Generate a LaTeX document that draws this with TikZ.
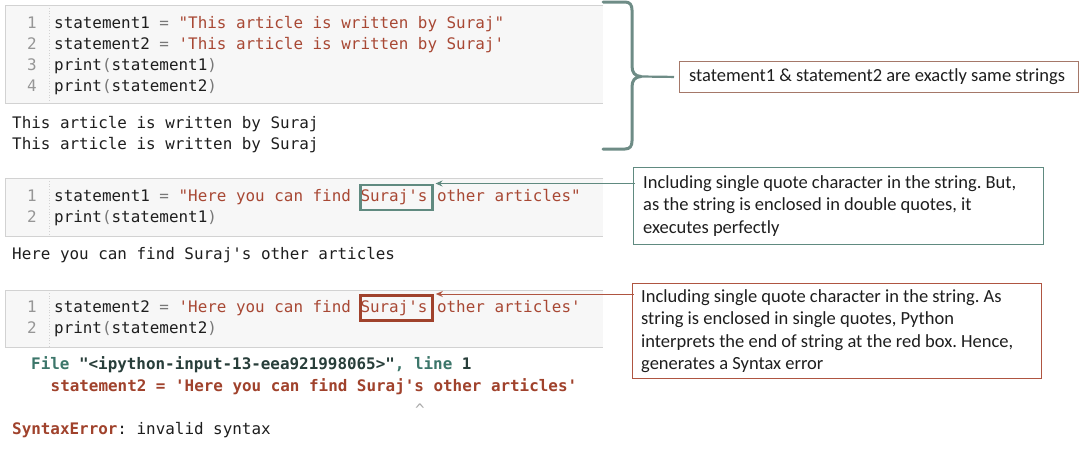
\documentclass[tikz,border=0pt]{standalone}
\usepackage{fontspec}
\setmainfont{Carlito}
\setmonofont{DejaVu Sans Mono}
\usetikzlibrary{arrows.meta}
\definecolor{strc}{RGB}{168,72,52}
\definecolor{opc}{RGB}{120,120,120}
\definecolor{lnc}{RGB}{150,150,150}
\definecolor{cellfill}{RGB}{247,247,247}
\definecolor{cellline}{RGB}{210,210,210}
\definecolor{tealc}{RGB}{96,138,128}
\definecolor{bracec}{RGB}{110,140,134}
\definecolor{redc}{RGB}{160,66,44}
\definecolor{callred}{RGB}{175,85,65}
\definecolor{callbrown}{RGB}{165,120,105}
\definecolor{filec}{RGB}{60,118,106}
\definecolor{fnc}{RGB}{40,62,58}
\definecolor{txtc}{RGB}{30,30,30}
\definecolor{caretc}{RGB}{170,170,170}
\newcommand{\cdfont}{\ttfamily\fontsize{15.9}{21.3}\selectfont}
\newcommand{\clfont}{\fontsize{18.5}{22.5}\selectfont\frenchspacing}
\begin{document}
\begin{tikzpicture}[x=1pt,y=-1pt,
  code/.style={anchor=base west,inner sep=0pt,font=\cdfont,text=txtc},
  lnum/.style={anchor=base east,inner sep=0pt,font=\cdfont,text=lnc},
  cellbox/.style={fill=cellfill,anchor=north west,inner sep=0pt,minimum width=598pt},
  cellframe/.style={draw=cellline,line width=1pt},
  gutter/.style={draw=cellline,dotted,line width=0.8pt},
  hlbox/.style={anchor=north west,inner sep=0pt,minimum width=72pt,minimum height=25pt},
  calloutbox/.style={anchor=north west,inner sep=0pt,line width=1pt},
  callouttext/.style={anchor=west,inner sep=0pt,font=\clfont,align=left,text=txtc},
  ptr/.style={line width=1pt,{Stealth[length=7pt,width=6pt]}-}
]
\fill[white] (0,0) rectangle (1088,448);
\useasboundingbox (0,0) rectangle (1088,448);

% ---------- cell 1 ----------
\node[cellbox,minimum height=98pt] (cell1) at (5,5) {};
\draw[cellframe] (cell1.north east) -- (cell1.north west) -- (cell1.south west) -- (cell1.south east);
\draw[gutter] ([xshift=44pt]cell1.north west) -- ([xshift=44pt]cell1.south west);
\node[lnum] (n11) at (37,28) {1};
\node[lnum] (n12) at (37,49) {2};
\node[lnum] (n13) at (37,70) {3};
\node[lnum] (n14) at (37,91) {4};
\node[code] (a1) at (54,28) {statement1 \textcolor{opc}{=} \textcolor{strc}{"This article is written by Suraj"}};
\node[code] (a2) at (54,49) {statement2 \textcolor{opc}{=} \textcolor{strc}{'This article is written by Suraj'}};
\node[code] (a3) at (54,70) {print\textcolor{opc}{(}statement1\textcolor{opc}{)}};
\node[code] (a4) at (54,91) {print\textcolor{opc}{(}statement2\textcolor{opc}{)}};
\node[code] (o1) at (12,128.5) {This article is written by Suraj};
\node[code] (o2) at (12,149.5) {This article is written by Suraj};

% brace
\draw[bracec,line width=3pt,line cap=round,line join=round]
  (603,2) -- (625,2) .. controls (630,2) and (632,5) .. (632,10)
  -- (632,66) .. controls (632,73) and (635,76) .. (641,76.5)
  .. controls (635,77) and (632,80) .. (632,87)
  -- (632,141) .. controls (632,146) and (630,149) .. (625,149) -- (603,149);
\coordinate (cusp) at (641,76.5);
\node[calloutbox,draw=callbrown,minimum width=399pt,minimum height=31pt] (call0) at (679,61) {};
\node[callouttext] (txt0) at ([xshift=10pt]call0.west)
  {statement1 \& statement2 are exactly same strings};
\draw[bracec,line width=2.2pt,shorten >=5pt] (cusp) -- (call0.west);

% ---------- cell 2 ----------
\node[cellbox,minimum height=58pt] (cell2) at (5,178) {};
\draw[cellframe] (cell2.north east) -- (cell2.north west) -- (cell2.south west) -- (cell2.south east);
\draw[gutter] ([xshift=44pt]cell2.north west) -- ([xshift=44pt]cell2.south west);
\node[lnum] (n21) at (37,201.5) {1};
\node[lnum] (n22) at (37,222.5) {2};
\node[code] (b1) at (54,201.5) {statement1 \textcolor{opc}{=} \textcolor{strc}{"Here you can find Suraj's other articles"}};
\node[code] (b2) at (54,222.5) {print\textcolor{opc}{(}statement1\textcolor{opc}{)}};
\node[code] (o3) at (12,259.5) {Here you can find Suraj's other articles};
\node[hlbox,draw=tealc,line width=2.5pt] (gbox) at (359,183.5) {};
\node[calloutbox,draw=tealc,minimum width=410pt,minimum height=77pt] (call1) at (633,167) {};
\node[callouttext] (txt1) at ([xshift=10pt]call1.west)
  {Including single quote character in the string. But,\\
   as the string is enclosed in double quotes, it\\
   executes perfectly};
\draw[ptr,tealc] ([xshift=2pt]gbox.north east) -- ([xshift=2pt]gbox.north east -| call1.west);

% ---------- cell 3 ----------
\node[cellbox,minimum height=57pt] (cell3) at (5,290) {};
\draw[cellframe] (cell3.north east) -- (cell3.north west) -- (cell3.south west) -- (cell3.south east);
\draw[gutter] ([xshift=44pt]cell3.north west) -- ([xshift=44pt]cell3.south west);
\node[lnum] (n31) at (37,312.5) {1};
\node[lnum] (n32) at (37,333.5) {2};
\node[code] (c1) at (54,312.5) {statement2 \textcolor{opc}{=} \textcolor{strc}{'Here you can find Suraj's other articles'}};
\node[code] (c2) at (54,333.5) {print\textcolor{opc}{(}statement2\textcolor{opc}{)}};
\node[hlbox,draw=redc,line width=2.8pt] (rbox) at (359,294) {};
\node[calloutbox,draw=callred,minimum width=409pt,minimum height=95pt] (call2) at (632,283) {};
\node[callouttext] (txt2) at ([xshift=9pt]call2.west)
  {Including single quote character in the string. As\\
   string is enclosed in single quotes, Python\\
   interprets the end of string at the red box. Hence,\\
   generates a Syntax error};
\draw[ptr,callred] ([xshift=2pt]rbox.north east) -- ([xshift=2pt]rbox.north east -| call2.west);

% traceback
\node[code,font=\cdfont\bfseries] (t1) at (31,369.5)
  {\textcolor{filec}{File} \textcolor{fnc}{"<ipython-input-13-eea921998065>"}\textcolor{filec}{, line} \textcolor{fnc}{1}};
\node[code,font=\cdfont\bfseries,text=redc] (t2) at (50.5,391)
  {statement2 = 'Here you can find Suraj's other articles'};
\node[anchor=base,inner sep=0pt,font=\cdfont,text=caretc] (t3) at (420,415) {\textasciicircum};
\node[code] (t4) at (12,434.5) {\textcolor{redc}{\bfseries SyntaxError}: invalid syntax};
\end{tikzpicture}
\end{document}
